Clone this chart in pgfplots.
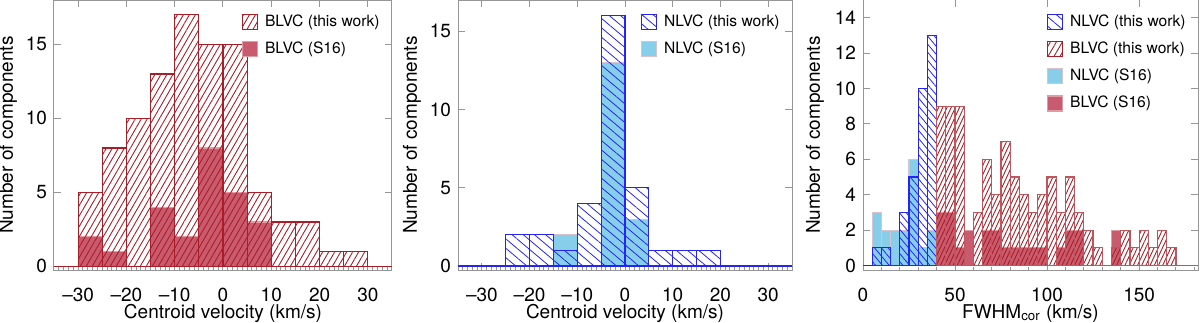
\documentclass[border=0pt]{standalone}
\usepackage{fontspec}
\setmainfont{TeX Gyre Heros}
\usepackage{pgfplots}
\pgfplotsset{compat=1.18}
\usetikzlibrary{patterns.meta}

\definecolor{blvc}{RGB}{172,28,38}
\definecolor{blvcfill}{RGB}{200,92,110}
\definecolor{blvcedge}{RGB}{225,155,165}
\definecolor{nlvc}{RGB}{35,35,250}
\definecolor{nlvcfill}{RGB}{135,206,235}
\definecolor{nlvcedge}{RGB}{215,195,205}
\definecolor{axgray}{RGB}{150,150,150}

\pgfplotsset{
  hist/.style={
    scale only axis, height=135pt,
    axis line style={axgray, line width=0.5pt},
    tick style={axgray, line width=0.5pt},
    major tick length=3.5pt,
    tick align=inside,
    ymin=-0.25,
    font=\fontsize{9.5}{11}\selectfont,
    /pgf/number format/assume math mode=true,
    xticklabel style={anchor=base, yshift=-15.5pt},
    xlabel style={at={(axis description cs:0.5,0)}, anchor=base, yshift=-24pt},
    extra x tick labels={},
    extra x tick style={major tick length=1.7pt, xtick pos=bottom},
    legend style={draw=none, fill=none, at={(axis description cs:1,1)},
      anchor=north east, xshift=-4pt, yshift=-5pt,
      font=\fontsize{7.8}{9}\selectfont, inner sep=0pt, row sep=2.3pt,
      column sep=1.5pt},
    legend cell align=left,
  },
  patch/.style={legend image code/.code={\draw[##1] (0pt,-3.75pt) rectangle (7.5pt,3.75pt);}},
  bhatch/.style={draw=blvc, line width=0.6pt, pattern={Lines[angle=60,distance=2.6pt,line width=0.45pt]}, pattern color=blvc},
  bfill/.style={draw=blvcedge, line width=0.6pt, fill=blvcfill},
  nhatch/.style={draw=nlvc, line width=0.6pt, pattern={Lines[angle=-40,distance=3.6pt,line width=0.4pt]}, pattern color=nlvc},
  nfill/.style={draw=nlvcedge, line width=0.6pt, fill=nlvcfill},
}

\begin{document}
\begin{tikzpicture}
\path[use as bounding box] (0,-26pt) rectangle (600pt,135pt);

% BLVC centroid velocity
\begin{axis}[hist, at={(27pt,0)}, width=169pt,
    xmin=-35, xmax=35, ymax=18,
    xtick={-30,-20,...,30}, xticklabels={--30,--20,--10,0,10,20,30},
    extra x ticks={-35,-34,...,35}, ytick={0,5,10,15},
    xlabel={Centroid velocity (km/s)},
    ylabel={Number of components},
    ylabel style={at={(axis description cs:-0.136,0.5)}, anchor=center}]
  \addplot[ybar interval, bfill, forget plot] coordinates {
    (-30,2) (-25,1) (-20,0) (-15,4) (-10,2) (-5,8) (0,5) (5,3) (10,0)};
  \addplot[ybar interval, bhatch, forget plot] coordinates {
    (-30,5) (-25,8) (-20,10) (-15,13) (-10,17) (-5,15) (0,15) (5,5)
    (10,3) (15,3) (20,1) (25,1) (30,0)};
  \addplot[blvc, line width=0.6pt, forget plot] coordinates {(-35,0) (35,0)};
  \addlegendimage{patch, bhatch}
  \addlegendentry{BLVC (this work)}
  \addlegendimage{patch, bfill}
  \addlegendentry{BLVC (S16)}
\end{axis}

% NLVC centroid velocity
\begin{axis}[hist, at={(229pt,0)}, width=167pt,
    xmin=-35, xmax=35, ymax=17,
    xtick={-30,-20,...,30}, xticklabels={--30,--20,--10,0,10,20,30},
    extra x ticks={-35,-34,...,35}, ytick={0,5,10,15},
    xlabel={Centroid velocity (km/s)},
    ylabel={Number of components},
    ylabel style={at={(axis description cs:-0.138,0.5)}, anchor=center}]
  \addplot[ybar interval, nfill, forget plot] coordinates {
    (-15,2) (-10,0) (-5,13) (0,3) (5,0)};
  \addplot[ybar interval, nhatch, forget plot] coordinates {
    (-25,2) (-20,2) (-15,1) (-10,4) (-5,16) (0,5) (5,1) (10,1) (15,1) (20,0)};
  \addplot[nlvc, line width=0.6pt, forget plot] coordinates {(-35,0) (35,0)};
  \addlegendimage{patch, nhatch}
  \addlegendentry{NLVC (this work)}
  \addlegendimage{patch, nfill}
  \addlegendentry{NLVC (S16)}
\end{axis}

% FWHM
\begin{axis}[hist, at={(431.5pt,0)}, width=167.5pt,
    xmin=0, xmax=182, ymax=15,
    xtick={0,50,100,150}, extra x ticks={0,10,...,180}, ytick={0,2,...,14},
    xlabel={FWHM\textsubscript{cor} (km/s)},
    ylabel={Number of components},
    ylabel style={at={(axis description cs:-0.143,0.5)}, anchor=center}]
  \addplot[ybar interval, nfill, forget plot] coordinates {
    (5,3) (10,2) (15,2) (20,2) (25,6) (30,1) (35,2) (40,0)};
  \addplot[ybar interval, bfill, forget plot] coordinates {
    (40,3) (45,3) (50,1) (55,2) (60,0) (65,2) (70,2) (75,1) (80,1) (85,1)
    (90,1) (95,1) (100,0) (105,1) (110,2) (115,2) (120,0) (125,0) (130,0)
    (135,2) (140,0)};
  \addplot[ybar interval, nhatch, pattern={Lines[angle=-50,distance=2.6pt,line width=0.4pt]}, forget plot] coordinates {
    (5,1) (10,1) (15,0) (20,3) (25,5) (30,10) (35,13) (40,0)};
  \addplot[ybar interval, bhatch, draw=blvc!75, pattern={Lines[angle=65,distance=1.9pt,line width=0.45pt]}, forget plot] coordinates {
    (40,9) (45,9) (50,9) (55,0) (60,3) (65,6) (70,4) (75,7) (80,5) (85,4)
    (90,3) (95,4) (100,5) (105,3) (110,5) (115,3) (120,2) (125,1) (130,0)
    (135,1) (140,2) (145,1) (150,2) (155,1) (160,2) (165,1) (170,0)};
  \addplot[nlvc, line width=0.6pt, forget plot] coordinates {(0,0) (40,0)};
  \addplot[blvc!75, line width=0.6pt, forget plot] coordinates {(40,0) (182,0)};
  \addlegendimage{patch, nhatch}
  \addlegendentry{NLVC (this work)}
  \addlegendimage{patch, bhatch}
  \addlegendentry{BLVC (this work)}
  \addlegendimage{patch, nfill}
  \addlegendentry{NLVC (S16)}
  \addlegendimage{patch, bfill}
  \addlegendentry{BLVC (S16)}
\end{axis}
\end{tikzpicture}
\end{document}
